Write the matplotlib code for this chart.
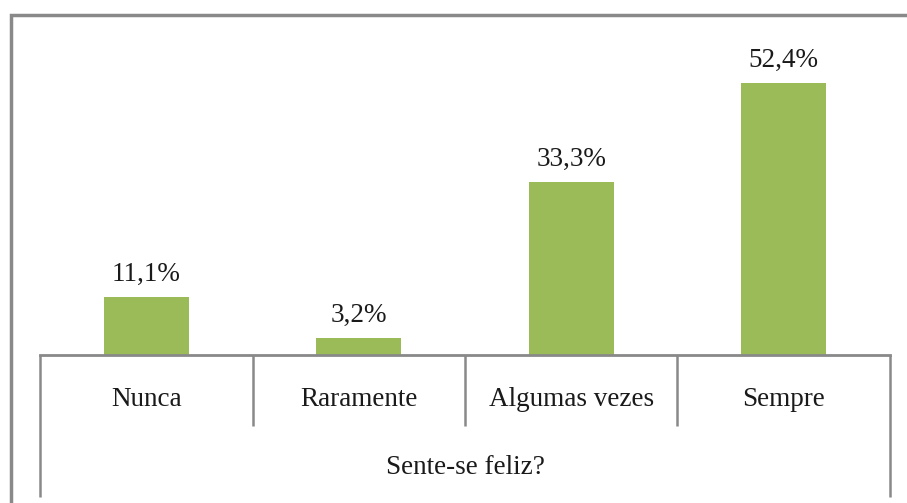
import matplotlib
matplotlib.use("Agg")
import matplotlib.pyplot as plt
from matplotlib.patches import Rectangle
import matplotlib.transforms as mtrans

# data
categories = ["Nunca", "Raramente", "Algumas vezes", "Sempre"]
values = [11.1, 3.2, 33.3, 52.4]
value_labels = ["11,1%", "3,2%", "33,3%", "52,4%"]
axis_title = "Sente-se feliz?"

green = "#9BBB59"
grey = "#898989"
txt = "#1a1a1a"

W, H = 907, 503
fig = plt.figure(figsize=(W / 100, H / 100), dpi=100)
plt.rcParams["font.family"] = ["Liberation Serif", "DejaVu Serif"]

# axes placed in pixels: x 40..890, y 15..355
left, right, top, bottom = 40, 890, 15, 355
ax = fig.add_axes([left / W, 1 - bottom / H, (right - left) / W, (bottom - top) / H])

x = list(range(len(categories)))
ax.bar(x, values, width=0.4, color=green, zorder=2)
ax.set_xlim(-0.5, len(categories) - 0.5)
ax.set_ylim(0, (bottom - top) / 5.19)

fs = 19.5
for xi, v, lab in zip(x, values, value_labels):
    ax.annotate(lab, (xi, v), xytext=(0, 7.5), textcoords="offset points",
                ha="center", va="bottom", fontsize=fs, color=txt)

for s in ["top", "left", "right"]:
    ax.spines[s].set_visible(False)
ax.spines["bottom"].set_color(grey)
ax.spines["bottom"].set_linewidth(2)
ax.set_xticks([])
ax.set_yticks([])

# category separators and outer lines
trans = mtrans.blended_transform_factory(ax.transData, ax.transAxes)
ah = bottom - top
for i in range(len(categories) + 1):
    xb = i - 0.5
    depth = 142 if i in (0, len(categories)) else 71
    ax.plot([xb, xb], [0, -depth / ah], transform=trans, color=grey,
            lw=1.8, clip_on=False, solid_capstyle="butt")

for xi, c in zip(x, categories):
    ax.text(xi, -44 / ah, c, transform=trans, ha="center", va="center",
            fontsize=fs, color=txt)

ax.text(0.5, -113 / ah, axis_title, transform=ax.transAxes, ha="center",
        va="center", fontsize=fs, color=txt)

# outer chart border (right and bottom edges fall outside the image)
fig.patches.append(Rectangle((10.5 / W, -0.1), (915 - 10.5) / W, 1.1 - 14.5 / H,
                             transform=fig.transFigure, fill=False,
                             edgecolor=grey, lw=2.5))

fig.savefig("out.png", dpi=100, facecolor="white")
